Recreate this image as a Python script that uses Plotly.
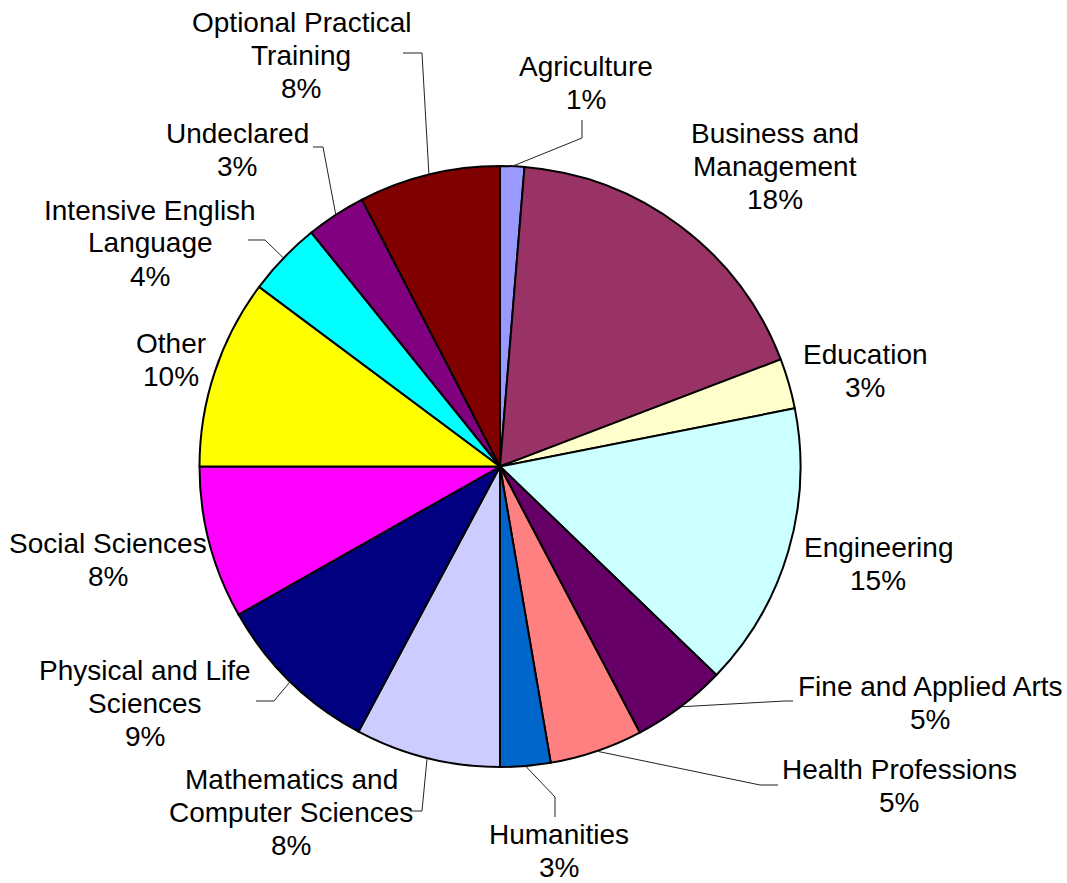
import math
import plotly.graph_objects as go

# ---- data ----
categories = [
    "Agriculture", "Business and Management", "Education", "Engineering",
    "Fine and Applied Arts", "Health Professions", "Humanities",
    "Mathematics and Computer Sciences", "Physical and Life Sciences",
    "Social Sciences", "Other", "Intensive English Language", "Undeclared",
    "Optional Practical Training",
]
shares = [1.3, 17.9, 2.7, 15.3, 5.1, 5.0, 2.7, 7.8, 9.0, 8.2, 10.2, 4.0, 3.2, 7.6]
display_names = [
    "Agriculture", "Business and<br>Management", "Education", "Engineering",
    "Fine and Applied Arts", "Health Professions", "Humanities",
    "Mathematics and<br>Computer Sciences", "Physical and Life<br>Sciences",
    "Social Sciences", "Other", "Intensive English<br>Language", "Undeclared",
    "Optional Practical<br>Training",
]

# ---- styles / layout ----
colors = ["#9999FF", "#993366", "#FFFFCC", "#CCFFFF", "#660066", "#FF8080", "#0066CC",
          "#CCCCFF", "#000080", "#FF00FF", "#FFFF00", "#00FFFF", "#800080", "#800000"]

W, H = 1067, 883
CX, CY, R = 500, 466.5, 300.5
FONT = dict(family="Liberation Sans, Arial, sans-serif", size=28, color="black")
LINE_GAP = 33

# label block centres (pixels)
label_pos = [(586, 83), (775, 166), (865, 371), (878, 564), (930, 703), (899, 786),
             (559, 851), (291, 812), (145, 703), (108, 560), (171, 360), (150, 243),
             (237, 150), (301, 55)]
# leader line elbow + end points (pixels), None = no leader
leaders = [[(582, 138), (582, 120)], None, None, None,
           [(785, 701), (793, 701)], [(760, 785), (778, 785)],
           [(555, 797), (555, 817)], [(422, 811), (410, 811)],
           [(274, 701), (256, 701)], None, None,
           [(265, 240), (248, 240)], [(323, 147), (313, 147)],
           [(422, 53), (403, 53)]]


def px(x):
    return x / W


def py(y):
    return 1 - y / H


total = sum(shares)
fig = go.Figure(go.Pie(
    labels=categories, values=shares, sort=False, direction="clockwise", rotation=0,
    marker=dict(colors=colors, line=dict(color="black", width=2)),
    textinfo="none", hoverinfo="label+percent",
    domain=dict(x=[px(CX - R), px(CX + R)], y=[py(CY + R), py(CY - R)]),
))

annotations = []
shapes = []
cum = 0.0
for i, v in enumerate(shares):
    mid = (cum + v / 2) / total * 2 * math.pi
    cum += v
    pct = round(100 * v / total)
    lx, ly = label_pos[i]
    lines = display_names[i].split("<br>") + [f"{pct}%"]
    n = len(lines)
    for k, line in enumerate(lines):
        annotations.append(dict(
            x=px(lx), y=py(ly + (k - (n - 1) / 2) * LINE_GAP),
            xref="paper", yref="paper", showarrow=False,
            text=line, font=FONT, xanchor="center", yanchor="middle", align="center",
        ))
    if leaders[i]:
        ex, ey = CX + R * math.sin(mid), CY - R * math.cos(mid)
        pts = [(ex, ey)] + leaders[i]
        path = "M " + " L ".join(f"{px(x):.5f},{py(y):.5f}" for x, y in pts)
        shapes.append(dict(type="path", path=path, xref="paper", yref="paper",
                           line=dict(color="#222222", width=1)))

fig.update_layout(
    width=W, height=H, margin=dict(l=0, r=0, t=0, b=0),
    paper_bgcolor="white", plot_bgcolor="white", showlegend=False,
    annotations=annotations, shapes=shapes,
)

fig.write_html("out.html", config={"displayModeBar": False},
               post_script="document.body.style.margin='0px';")
